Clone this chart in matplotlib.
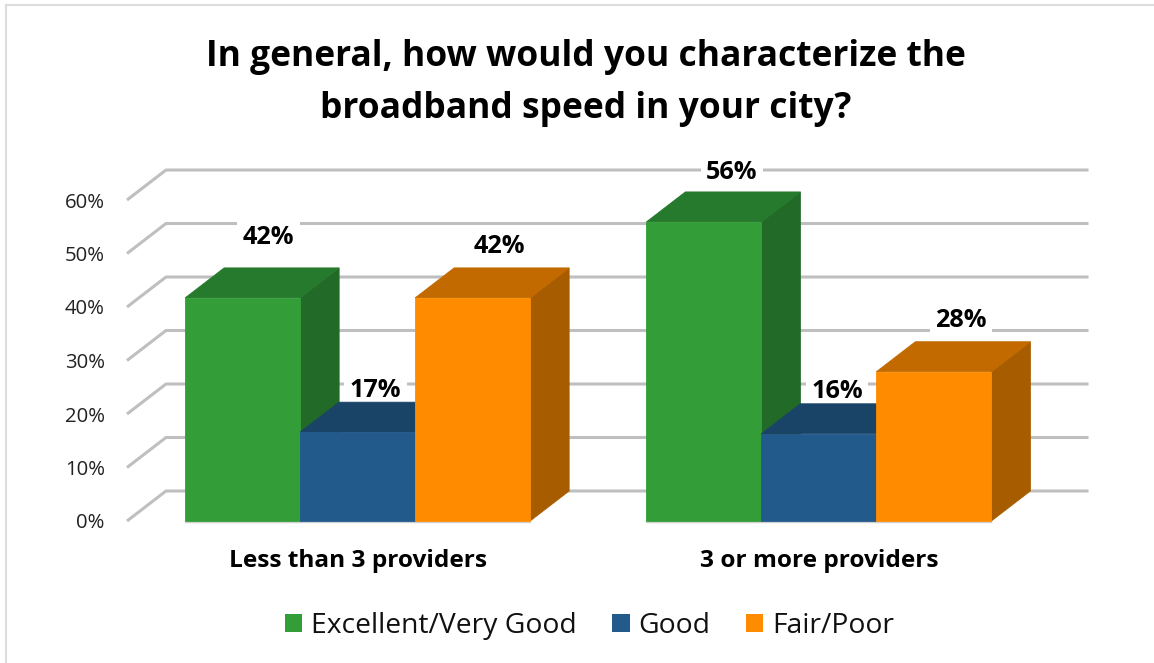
import matplotlib
matplotlib.use("Agg")
import matplotlib.pyplot as plt
from matplotlib.patches import Polygon, Patch, Rectangle

plt.rcParams['font.family'] = ['Open Sans', 'DejaVu Sans']

categories = ["Less than 3 providers", "3 or more providers"]
series_names = ["Excellent/Very Good", "Good", "Fair/Poor"]
excellent = [41.7, 55.9]
good = [16.6, 16.3]
fair = [41.7, 27.9]
plotted = [excellent, good, fair]
labels = [["42%", "56%"], ["17%", "16%"], ["42%", "28%"]]
yticks = [0, 10, 20, 30, 40, 50, 60]
ytick_labels = ["0%", "10%", "20%", "30%", "40%", "50%", "60%"]

front = ["#339E38", "#225A8C", "#FF8C00"]
top = ["#267A2D", "#1A4368", "#C26A00"]
side = ["#216A27", "#194468", "#A85C00"]

W, H = 1154, 663
fig = plt.figure(figsize=(W / 100, H / 100), dpi=100, facecolor="white")
ax = fig.add_axes([127 / W, 1 - 521 / H, (1049.5 - 127) / W, 321 / H])
ax.set_xlim(-0.5, 1.5)
ax.set_ylim(0, 60)
ax.patch.set_alpha(0)
for s in ax.spines.values():
    s.set_visible(False)

px_x = 2.0 / (1049.5 - 127)
px_y = 60 / 321
dx, dy = 39 * px_x, 30 * px_y
bar_w = 115 * px_x

for v in yticks:
    ax.plot([-0.5, -0.5 + dx, 1.5 + dx], [v, v + dy, v + dy], color="#BFBFBF", lw=2.2,
            solid_capstyle="butt", solid_joinstyle="round", clip_on=False, zorder=1)

label_off = [[(26, 60), (28, 49)], [(18, 42), (18, 42)], [(27, 51), (27, 51)]]

for c in range(len(categories)):
    for i, vals in enumerate(plotted):
        v = vals[c]
        x0 = c + (i - 1.5) * bar_w
        x1 = x0 + bar_w
        z = 3 + c * 3 + i * 0.5
        kw = dict(clip_on=False, zorder=z, lw=0.6)
        ax.add_patch(Polygon([(x1, 0), (x1 + dx, dy), (x1 + dx, v + dy), (x1, v)],
                             fc=side[i], ec=side[i], **kw))
        ax.add_patch(Polygon([(x0, v), (x0 + dx, v + dy), (x1 + dx, v + dy), (x1, v)],
                             fc=top[i], ec=top[i], **kw))
        ax.add_patch(Rectangle((x0, 0), bar_w, v, fc=front[i], ec=front[i], **kw))
        ax.annotate(labels[i][c], xy=(x0 + bar_w / 2, v), xytext=(label_off[i][c][0] * .72, label_off[i][c][1] * .72),
                    textcoords="offset points", ha="center", va="center",
                    fontsize=18.2, fontweight="bold", color="black", zorder=2,
                    bbox=dict(fc="white", ec="none", pad=4), annotation_clip=False)
    x0 = c - 1.5 * bar_w
    ax.plot([x0, x0 + 3 * bar_w], [-0.15, -0.15], color="#D0D0D0", lw=1, clip_on=False, zorder=2.5)

ax.set_yticks(yticks, ytick_labels, fontsize=14.6, color="#222222")
ax.set_xticks(range(len(categories)), categories, fontsize=17.6, fontweight="bold", color="black")
ax.tick_params(axis="y", length=0, pad=16)
ax.tick_params(axis="x", length=0, pad=20.5)

fig.text(586 / W, 1 - 83 / H, "In general, how would you characterize the\nbroadband speed in your city?",
         ha="center", va="center", fontsize=25.5, fontweight="bold", color="black", linespacing=1.62)

handles = [Patch(fc=front[i], ec="none", label=series_names[i]) for i in range(3)]
fig.legend(handles=handles, loc="center", bbox_to_anchor=(589.5 / W, 1 - 626 / H), ncol=3, frameon=False,
           fontsize=20.3, handlelength=0.62, handleheight=0.62, handletextpad=0.32, columnspacing=1.25,
           labelcolor="#111111")

fig.add_artist(plt.Line2D([6 / W, 6 / W], [0, 1 - 5 / H], color="#DDDDDD", lw=1.5))
fig.add_artist(plt.Line2D([6 / W, 1], [1 - 5 / H, 1 - 5 / H], color="#DDDDDD", lw=1.5))

fig.savefig("out.png", dpi=100)
